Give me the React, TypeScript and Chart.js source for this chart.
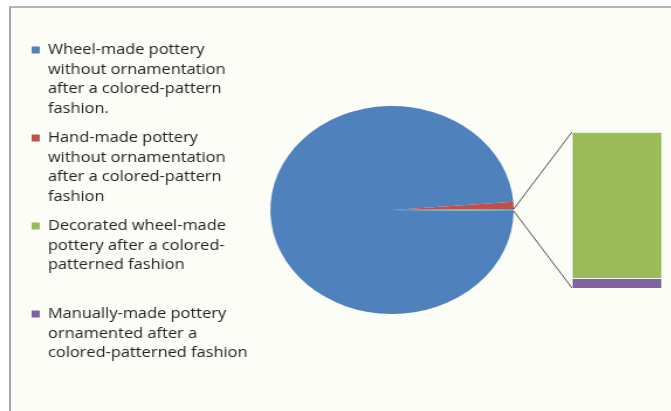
import React, { useEffect, useRef } from "react";
import { Chart, registerables } from "chart.js";

Chart.register(...registerables);

// ---- data ----
const categories: string[][] = [
  ["Wheel-made pottery", "without ornamentation", "after a colored-pattern", "fashion."],
  ["Hand-made pottery", "without ornamentation", "after a colored-pattern", "fashion"],
  ["Decorated wheel-made", "pottery after a colored-", "patterned fashion", ""],
  ["Manually-made pottery", "ornamented after a", "colored-patterned fashion"],
];
const values: number[] = [5030, 56, 15, 1];
const colors: string[] = ["#4f81bd", "#c0504d", "#9bbb59", "#8064a2"];
const otherColor = "#4bacc6";

// ---- layout constants ----
const SX = 1.17; // horizontal stretch of the reference image
const PIE_W = 574;
const PIE_H = 411;
const PIE_CX = 392 / SX;
const PIE_R = 104;
const BAR_LEFT = 572;
const BAR_TOP = 132;
const BAR_W = 90;
const BAR_H = 156;

export default function App() {
  const pieRef = useRef<HTMLCanvasElement>(null);
  const barRef = useRef<HTMLCanvasElement>(null);

  useEffect(() => {
    const otherVals = values.slice(2);
    const otherSum = otherVals.reduce((a, b) => a + b, 0);
    const total = values.reduce((a, b) => a + b, 0);
    const otherDeg = (otherSum / total) * 360;

    const bar = new Chart(barRef.current!, {
      type: "bar",
      data: {
        labels: ["Other"],
        datasets: [
          {
            label: categories[3].join(" "),
            data: [values[3]],
            backgroundColor: colors[3],
            borderColor: "rgba(255,255,255,0.5)",
            borderWidth: 1,
            barPercentage: 1,
            categoryPercentage: 1,
          },
          {
            label: categories[2].join(" "),
            data: [values[2]],
            backgroundColor: colors[2],
            borderColor: "rgba(255,255,255,0.5)",
            borderWidth: 1,
            barPercentage: 1,
            categoryPercentage: 1,
          },
        ],
      },
      options: {
        responsive: false,
        animation: false,
        layout: { padding: 0 },
        scales: {
          x: { display: false, stacked: true },
          y: { display: false, stacked: true, min: 0, max: otherSum },
        },
        plugins: { legend: { display: false }, tooltip: { enabled: false } },
      },
    });

    const connector = {
      id: "connector",
      afterDatasetsDraw(chart: any) {
        const arc: any = chart.getDatasetMeta(0).data[2];
        if (!arc) return;
        const g: any = bar.getDatasetMeta(1).data[0];
        const p: any = bar.getDatasetMeta(0).data[0];
        if (!g || !p) return;
        const topX = (BAR_LEFT + g.x - g.width / 2) / SX;
        const topY = BAR_TOP + g.y;
        const botX = (BAR_LEFT + p.x - p.width / 2) / SX;
        const botY = BAR_TOP + p.base;
        const r = arc.outerRadius;
        const ctx = chart.ctx;
        ctx.save();
        ctx.strokeStyle = "#404040";
        ctx.lineWidth = 0.9;
        ctx.beginPath();
        ctx.moveTo(arc.x + r * Math.cos(arc.startAngle), arc.y + r * Math.sin(arc.startAngle));
        ctx.lineTo(topX, topY);
        ctx.moveTo(arc.x + r * Math.cos(arc.endAngle), arc.y + r * Math.sin(arc.endAngle));
        ctx.lineTo(botX, botY);
        ctx.stroke();
        ctx.restore();
      },
    };

    const pie = new Chart(pieRef.current!, {
      type: "pie",
      data: {
        labels: ["Wheel-made", "Hand-made", "Other"],
        datasets: [
          {
            data: [values[0], values[1], otherSum],
            backgroundColor: [colors[0], colors[1], otherColor],
            borderWidth: 0,
            radius: PIE_R,
            rotation: 90 + otherDeg / 2,
            clip: false,
          } as any,
        ],
      },
      options: {
        responsive: false,
        animation: false,
        layout: { padding: { top: 9, bottom: 0, left: 18, right: 120 } },
        plugins: {
          tooltip: { enabled: false },
          legend: {
            display: true,
            position: "left",
            align: "start",
            maxWidth: 300,
            title: {
              display: true,
              text: "",
              padding: { top: 15, bottom: 0 },
              font: { size: 10, lineHeight: 1 },
            },
            labels: {
              boxWidth: 7,
              boxHeight: 7,
              padding: 9,
              color: "#222",
              font: { family: "'Open Sans', sans-serif", size: 14, lineHeight: 1.41 },
              generateLabels: () =>
                categories.map((text, i) => ({
                  text: text as any,
                  fillStyle: colors[i],
                  strokeStyle: colors[i],
                  lineWidth: 0,
                  hidden: false,
                  index: i,
                  fontColor: "#222",
                })),
            },
          },
        },
      },
      plugins: [connector],
    });

    const left = pie.chartArea.left;
    const right = 2 * PIE_CX - left;
    pie.options.layout!.padding = { top: 9, bottom: 0, left: 18, right: PIE_W - right } as any;
    pie.update();

    return () => {
      pie.destroy();
      bar.destroy();
    };
  }, []);

  return (
    <div style={{ position: "absolute", left: 0, top: 0, width: 671, height: 411, overflow: "hidden", background: "#ffffff" }}>
      <div
        style={{
          position: "absolute",
          left: 9,
          top: 6,
          width: 720,
          height: 480,
          borderLeft: "2px solid #a8a8a8",
          borderTop: "2px solid #b4b4b4",
          background: "#fdfdf7",
        }}
      />
      <canvas
        ref={pieRef}
        width={PIE_W}
        height={PIE_H}
        style={{
          position: "absolute",
          left: 0,
          top: 0,
          width: PIE_W,
          height: PIE_H,
          transform: `scaleX(${SX})`,
          transformOrigin: "0 0",
        }}
      />
      <canvas
        ref={barRef}
        width={BAR_W}
        height={BAR_H}
        style={{ position: "absolute", left: BAR_LEFT, top: BAR_TOP, width: BAR_W, height: BAR_H }}
      />
    </div>
  );
}
